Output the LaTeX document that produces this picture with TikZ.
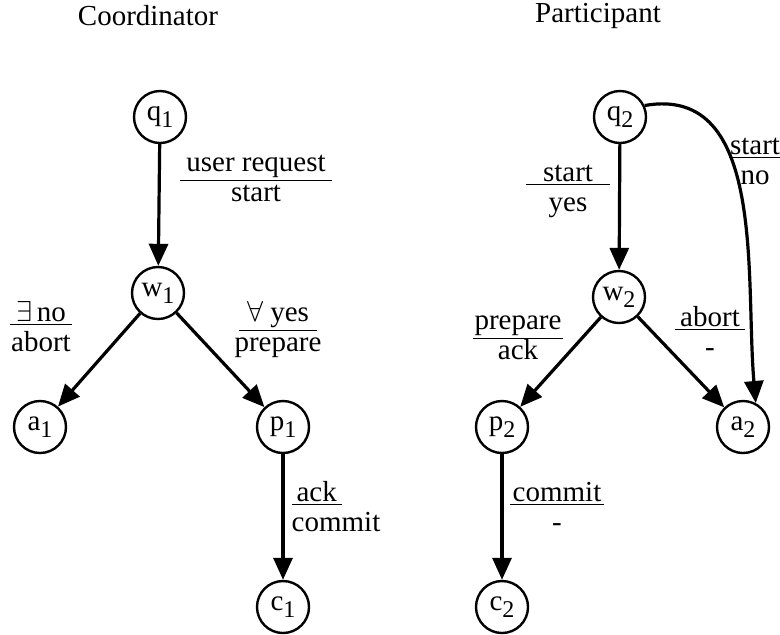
\documentclass[tikz,border=0pt]{standalone}
\usepackage{fontspec}
\setmainfont{Liberation Serif}
\usetikzlibrary{arrows.meta}
\newcommand{\io}[4][c]{\begin{tabular}{@{}#1@{}}\underline{\makebox[#2]{#3}}\\[-1pt] #4\end{tabular}}
\newcommand{\st}[2]{#1\raisebox{-3.5pt}{\fontsize{12}{12}\selectfont #2}}

\begin{document}
\begin{tikzpicture}[
x=0.5pt, y=-0.5pt,
font=\fontsize{14.5}{16}\selectfont,
state/.style={circle, draw, line width=1.2pt, minimum size=26pt, inner sep=0pt},
trans/.style={-{Triangle[length=11pt,width=9.5pt]}, line width=1.6pt}
]
\useasboundingbox (0,0) rectangle (780,634);
% titles
\node (coord) at (148,16) {Coordinator};
\node (part) at (598,16) {Participant};
% coordinator
\node[state] (q1) at (160,117) {\st{q}{1}};
\node[state] (w1) at (158,293) {\st{w}{1}};
\node[state] (a1) at (40,427) {\st{a}{1}};
\node[state] (p1) at (283,427) {\st{p}{1}};
\node[state] (c1) at (283,607) {\st{c}{1}};
% participant
\node[state] (q2) at (620,117) {\st{q}{2}};
\node[state] (w2) at (619,297) {\st{w}{2}};
\node[state] (p2) at (502,427) {\st{p}{2}};
\node[state] (a2) at (743,427) {\st{a}{2}};
\node[state] (c2) at (502,607) {\st{c}{2}};

\draw[trans] (q1) -- (w1);
\draw[trans] (w1) -- (a1);
\draw[trans] (w1) -- (p1);
\draw[trans] (p1) -- (c1);
\draw[trans] (q2) -- (w2);
\draw[trans] (w2) -- (p2);
\draw[trans] (w2) -- (a2);
\draw[trans] (p2) -- (c2);
\draw[trans] (q2.25) to[out=10, in=95] (a2.62);

% labels
\node (l1) at (256,180) {\io{76pt}{user request}{start}};
\node (l2) at (41,330) {\io{31pt}{$\exists$\,no}{abort}};
\node (l3) at (278,330) {\io{39pt}{$\forall$\ yes}{prepare}};
\node (l4) at (336,510) {\io[l]{25pt}{ack}{commit}};
\node (l5) at (568,190) {\io{42pt}{start}{yes}};
\node (l6) at (755,163) {\io{26pt}{start}{no}};
\node (l7) at (518,338) {\io{45pt}{prepare}{ack}};
\node (l8) at (710,335) {\io{35pt}{abort}{-}};
\node (l9) at (557,510) {\io{47pt}{commit}{-}};
\end{tikzpicture}
\end{document}
